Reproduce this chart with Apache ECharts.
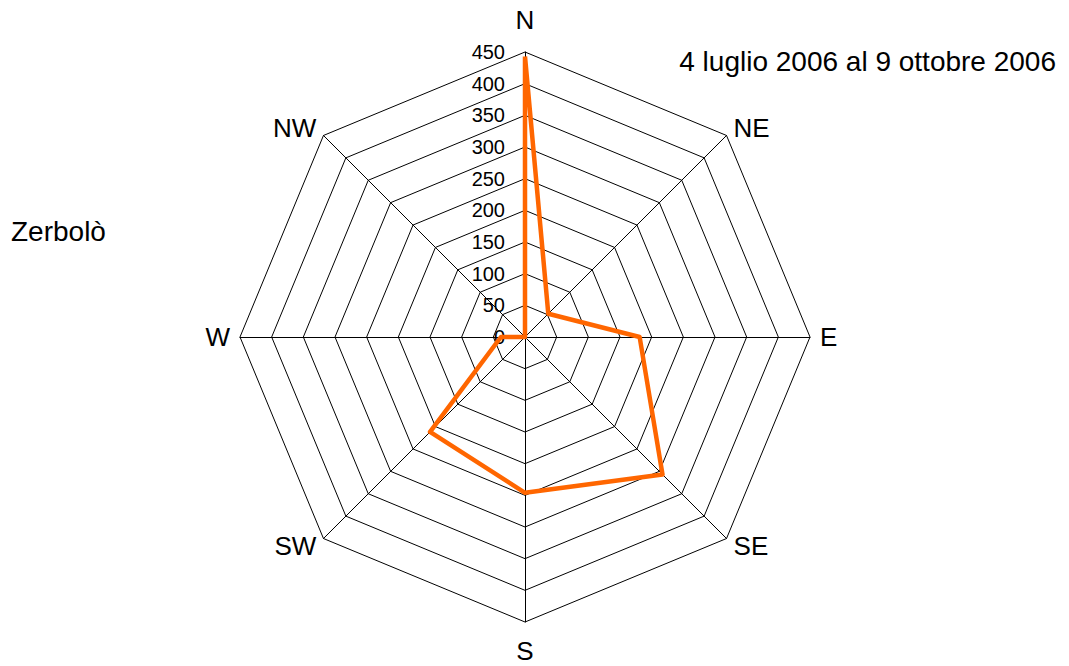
<!DOCTYPE html>
<html>
<head>
<meta charset="utf-8">
<script src="https://cdn.jsdelivr.net/npm/echarts@6/dist/echarts.min.js"></script>
<style>
  html, body { margin: 0; padding: 0; background: #fff; }
  #radar { width: 1069px; height: 666px; }
</style>
</head>
<body>
<div id="radar"></div>
<script>
// directions, counterclockwise from the top (ECharts radar order)
var directions = ['N', 'NW', 'W', 'SW', 'S', 'SE', 'E', 'NE'];
var counts = [443, 0, 38, 212, 246, 307, 181, 52];
var maxValue = 450;

var chartTitle = '4 luglio 2006 al 9 ottobre 2006';
var stationName = 'Zerbolò';

var dom_radar = document.getElementById('radar');
var myChart_radar = echarts.init(dom_radar, null, {renderer: 'svg'});

var indicators = directions.map(function (d, i) {
    var ind = {name: d, max: maxValue, min: 0};
    if (i === 0) {
        // values only along the north axis
        ind.axisLabel = {show: true, color: '#000', fontSize: 20, margin: 20, fontFamily: 'Liberation Sans'};
    }
    return ind;
});

var radarOption = {
    backgroundColor: '#fff',
    animation: false,
    textStyle: {fontFamily: 'Liberation Sans'},
    title: [
        {
            text: chartTitle,
            right: 8,
            top: 42,
            textStyle: {fontSize: 28, fontWeight: 'normal', color: '#000', fontFamily: 'Liberation Sans'}
        },
        {
            text: stationName,
            left: 6,
            top: 212,
            textStyle: {fontSize: 28, fontWeight: 'normal', color: '#000', fontFamily: 'Liberation Sans'}
        }
    ],
    radar: {
        center: [525, 337],
        radius: 285,
        shape: 'polygon',
        splitNumber: 9,
        startAngle: 90,
        indicator: indicators,
        axisName: {
            color: '#000',
            fontSize: 26,
            fontFamily: 'Liberation Sans',
            formatter: function (name) {
                if (name === 'N') return '{n|N}';
                if (name === 'S') return '{s|S}';
                return name;
            },
            rich: {
                n: {fontSize: 26, color: '#000', fontFamily: 'Liberation Sans', padding: [0, 0, 9, 0]},
                s: {fontSize: 26, color: '#000', fontFamily: 'Liberation Sans', padding: [6, 0, 0, 0]}
            }
        },
        nameGap: 10,
        axisLine: {lineStyle: {color: '#000', width: 1}},
        splitLine: {lineStyle: {color: '#000', width: 1}},
        splitArea: {show: false},
        axisTick: {show: false},
        axisLabel: {show: false}
    },
    series: [
        {
            type: 'radar',
            symbol: 'none',
            lineStyle: {color: '#ff6600', width: 4.5},
            data: [{value: counts, name: stationName}]
        }
    ]
};

myChart_radar.setOption(radarOption, true);
</script>
</body>
</html>
